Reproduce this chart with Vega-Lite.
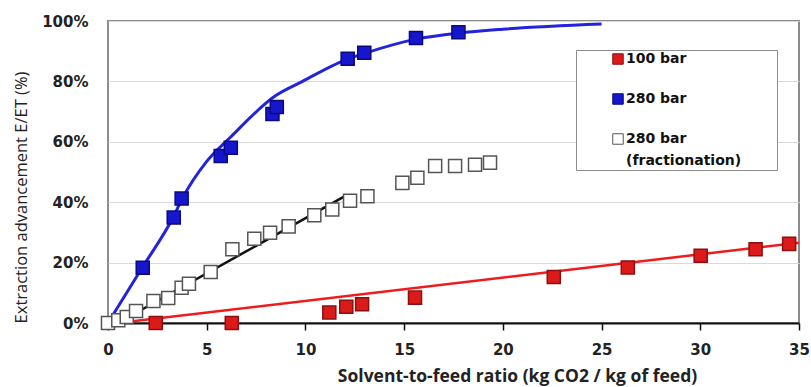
{
  "$schema": "https://vega.github.io/schema/vega-lite/v6.json",
  "width": 691,
  "height": 302,
  "autosize": {"type": "none"},
  "padding": {"left": 108, "top": 21, "right": 12, "bottom": 64},
  "background": "white",
  "config": {
    "view": {"stroke": "#8c8c8c", "strokeWidth": 2},
    "font": "DejaVu Sans",
    "style": {"guide-label": {"lineHeight": 22}}
  },
  "datasets": {
    "pts": [
      {"series": "280 bar", "x": 1.76, "y": 0.183},
      {"series": "280 bar", "x": 3.33, "y": 0.349},
      {"series": "280 bar", "x": 3.73, "y": 0.412},
      {"series": "280 bar", "x": 5.71, "y": 0.553},
      {"series": "280 bar", "x": 6.22, "y": 0.58},
      {"series": "280 bar", "x": 8.33, "y": 0.692},
      {"series": "280 bar", "x": 8.55, "y": 0.715},
      {"series": "280 bar", "x": 12.14, "y": 0.875},
      {"series": "280 bar", "x": 12.98, "y": 0.895},
      {"series": "280 bar", "x": 15.6, "y": 0.944},
      {"series": "280 bar", "x": 17.75, "y": 0.963},
      {"series": "100 bar", "x": 2.42, "y": 0.0},
      {"series": "100 bar", "x": 6.27, "y": 0.0},
      {"series": "100 bar", "x": 11.21, "y": 0.035},
      {"series": "100 bar", "x": 12.07, "y": 0.054},
      {"series": "100 bar", "x": 12.87, "y": 0.062},
      {"series": "100 bar", "x": 15.55, "y": 0.084},
      {"series": "100 bar", "x": 22.58, "y": 0.152},
      {"series": "100 bar", "x": 26.33, "y": 0.184},
      {"series": "100 bar", "x": 30.02, "y": 0.223},
      {"series": "100 bar", "x": 32.8, "y": 0.244},
      {"series": "100 bar", "x": 34.5, "y": 0.262},
      {"series": "280 bar (fractionation)", "x": 0.0, "y": 0.0},
      {"series": "280 bar (fractionation)", "x": 0.52, "y": 0.009},
      {"series": "280 bar (fractionation)", "x": 0.95, "y": 0.02},
      {"series": "280 bar (fractionation)", "x": 1.42, "y": 0.04},
      {"series": "280 bar (fractionation)", "x": 2.3, "y": 0.073},
      {"series": "280 bar (fractionation)", "x": 3.05, "y": 0.083},
      {"series": "280 bar (fractionation)", "x": 3.73, "y": 0.117},
      {"series": "280 bar (fractionation)", "x": 4.1, "y": 0.13},
      {"series": "280 bar (fractionation)", "x": 5.2, "y": 0.169},
      {"series": "280 bar (fractionation)", "x": 6.3, "y": 0.244},
      {"series": "280 bar (fractionation)", "x": 7.41, "y": 0.279},
      {"series": "280 bar (fractionation)", "x": 8.21, "y": 0.299},
      {"series": "280 bar (fractionation)", "x": 9.15, "y": 0.32},
      {"series": "280 bar (fractionation)", "x": 10.45, "y": 0.357},
      {"series": "280 bar (fractionation)", "x": 11.36, "y": 0.376},
      {"series": "280 bar (fractionation)", "x": 12.26, "y": 0.405},
      {"series": "280 bar (fractionation)", "x": 13.14, "y": 0.42},
      {"series": "280 bar (fractionation)", "x": 14.91, "y": 0.464},
      {"series": "280 bar (fractionation)", "x": 15.67, "y": 0.481},
      {"series": "280 bar (fractionation)", "x": 16.57, "y": 0.52},
      {"series": "280 bar (fractionation)", "x": 17.58, "y": 0.52},
      {"series": "280 bar (fractionation)", "x": 18.59, "y": 0.524},
      {"series": "280 bar (fractionation)", "x": 19.35, "y": 0.531}
    ],
    "curves": [
      {"curve": "280", "x": 0, "y": 0},
      {"curve": "280", "x": 1.76, "y": 0.186},
      {"curve": "280", "x": 3.3, "y": 0.35},
      {"curve": "280", "x": 3.73, "y": 0.408},
      {"curve": "280", "x": 5.0, "y": 0.535},
      {"curve": "280", "x": 6.2, "y": 0.615},
      {"curve": "280", "x": 8.5, "y": 0.753},
      {"curve": "280", "x": 9.7, "y": 0.795},
      {"curve": "280", "x": 12.1, "y": 0.873},
      {"curve": "280", "x": 13.0, "y": 0.893},
      {"curve": "280", "x": 15.6, "y": 0.94},
      {"curve": "280", "x": 17.75, "y": 0.96},
      {"curve": "280", "x": 20.0, "y": 0.973},
      {"curve": "280", "x": 25.0, "y": 0.99},
      {"curve": "100", "x": 0.5, "y": 0.0},
      {"curve": "100", "x": 35.0, "y": 0.266},
      {"curve": "frac", "x": 0.5, "y": 0.0},
      {"curve": "frac", "x": 12.0, "y": 0.42}
    ]
  },
  "encoding": {
    "x": {
      "field": "x", "type": "quantitative",
      "scale": {"domain": [0, 35], "nice": false, "zero": false},
      "axis": {
        "values": [0, 5, 10, 15, 20, 25, 30, 35],
        "labelFlush": false,
        "title": "Solvent-to-feed ratio (kg CO2 / kg of feed)",
        "titleFont": "Open Sans", "titleFontSize": 17.5, "titleFontWeight": "bold", "titleColor": "#222",
        "titlePadding": 10,
        "titleX": 409,
        "labelFont": "DejaVu Sans", "labelFontSize": 15, "labelFontWeight": "bold", "labelColor": "#222",
        "labelPadding": 12,
        "domainColor": "#111", "domainWidth": 2,
        "tickColor": "#111", "tickWidth": 1.5, "tickSize": 7,
        "grid": false
      }
    },
    "y": {
      "field": "y", "type": "quantitative",
      "scale": {"domain": [0, 1], "nice": false},
      "axis": {
        "values": [0, 0.2, 0.4, 0.6, 0.8, 1],
        "format": ".0%",
        "title": "Extraction advancement E/ET  (%)",
        "titleFont": "Open Sans", "titleFontSize": 16.5, "titleFontWeight": "normal", "titleColor": "#222",
        "titlePadding": 12,
        "titleY": 176,
        "labelFont": "DejaVu Sans", "labelFontSize": 15, "labelFontWeight": "bold", "labelColor": "#222",
        "labelPadding": 20,
        "domain": false, "ticks": false,
        "grid": true, "gridColor": "#d9d9d9", "gridWidth": 1
      }
    }
  },
  "layer": [
    {
      "data": {"name": "curves"},
      "transform": [{"filter": "datum.curve == '280'"}],
      "mark": {"type": "line", "color": "#2323dd", "strokeWidth": 3, "interpolate": "monotone"}
    },
    {
      "data": {"name": "curves"},
      "transform": [{"filter": "datum.curve == '100'"}],
      "mark": {"type": "line", "color": "#ee1c1c", "strokeWidth": 2.5}
    },
    {
      "data": {"name": "curves"},
      "transform": [{"filter": "datum.curve == 'frac'"}],
      "mark": {"type": "line", "color": "#111111", "strokeWidth": 2.5}
    },
    {
      "data": {"values": [{}]},
      "mark": {"type": "rule", "color": "#333333", "strokeWidth": 3, "strokeDash": [26, 12]},
      "encoding": {"y": {"datum": 0.42}, "x": null}
    },
    {
      "data": {"name": "pts"},
      "mark": {"type": "point", "shape": "square", "filled": false, "size": 170, "strokeWidth": 1.5, "opacity": 1},
      "encoding": {
        "fill": {
          "field": "series", "type": "nominal",
          "scale": {"domain": ["100 bar", "280 bar", "280 bar (fractionation)"], "range": ["#dd1a1a", "#1616cc", "#ffffff"]},
          "legend": {
            "orient": "none", "legendX": 468, "legendY": 29,
            "title": "\u00a0",
            "titleOrient": "right",
            "titlePadding": 34,
            "titleFontSize": 8,
            "symbolType": "square", "symbolSize": 110, "symbolStrokeWidth": 1,
            "labelFont": "DejaVu Sans", "labelFontSize": 14, "labelFontWeight": "bold", "labelColor": "#111",
            "labelExpr": "datum.label == '280 bar (fractionation)' ? ['280 bar', '(fractionation)'] : datum.label",
            "rowPadding": 24,
            "padding": 2,
            "symbolOffset": 33,
            "labelOffset": 1,
            "strokeColor": "#8c8c8c",
            "fillColor": "white"
          }
        },
        "stroke": {
          "field": "series", "type": "nominal",
          "scale": {"domain": ["100 bar", "280 bar", "280 bar (fractionation)"], "range": ["#8a1010", "#0a0a80", "#555555"]},
          "legend": null
        }
      }
    }
  ]
}
